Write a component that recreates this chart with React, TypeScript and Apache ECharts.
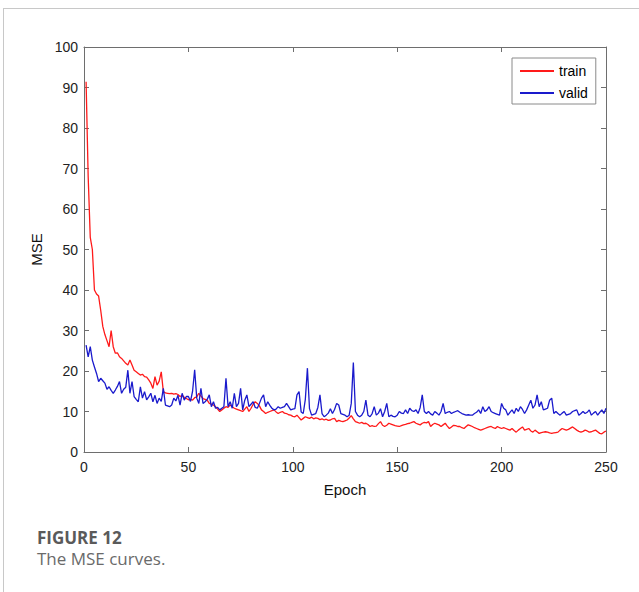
import React, { useEffect, useRef } from "react";
import * as echarts from "echarts";

const xTicks = [0, 50, 100, 150, 200, 250];
const yTicks = [0, 10, 20, 30, 40, 50, 60, 70, 80, 90, 100];

const trainMSE = [
  91.4, 68, 53, 50, 40, 39, 38.5, 35, 31, 29,
  27.5, 26, 30, 26, 24.4, 24.5, 23.5, 23.1, 22.5, 21.9,
  21.5, 22.7, 21.5, 20.2, 19.8, 19.4, 19, 19.2, 18.6, 18.5,
  17.8, 17, 15.7, 18.6, 16.5, 17.5, 19.8, 14.9, 14.6, 14.5,
  14.4, 14.5, 14.3, 14.4, 14.2, 13.7, 14, 13.5, 13.2, 12.9,
  13.0, 12.8, 13.4, 13.6, 14.5, 13.8, 13.2, 13.0, 12.8, 12.0,
  11.8, 11.6, 11.2, 10.6, 10.0, 10.4, 10.8, 11.2, 11.0, 11.6,
  11.2, 10.8, 10.6, 10.4, 10.2, 10.0, 10.6, 11.2, 10.0, 10.8,
  11.8, 12.4, 12.0, 11.4, 10.4, 10.0, 9.5, 9.8, 10.0, 10.2,
  10.4, 9.9, 9.5, 9.8, 10.0, 9.6, 9.5, 9.2, 9.1, 8.8,
  8.7, 9.1, 8.5, 7.9, 8.3, 8.7, 8.5, 8.3, 8.6, 8.2,
  8.4, 8.3, 8.0, 8.2, 7.9, 8.1, 7.8, 7.9, 8.2, 8.3,
  7.5, 7.8, 7.6, 7.5, 7.7, 7.9, 8.4, 9.0, 8.2, 7.5,
  7.3, 7.1, 7.3, 7.0, 7.1, 6.8, 6.3, 6.5, 6.3, 6.4,
  7.0, 7.5, 6.6, 6.3, 6.6, 7.1, 6.9, 6.7, 6.5, 6.4,
  6.3, 6.5, 6.7, 6.8, 7.0, 7.1, 7.3, 7.5, 7.1, 6.9,
  6.7, 7.1, 7.3, 7.2, 7.5, 6.3, 6.8, 7.1, 6.9, 6.7,
  6.3, 6.7, 7.1, 6.4, 5.8, 6.2, 6.6, 6.5, 6.3, 6.3,
  6.0, 5.8, 6.3, 6.7, 6.5, 6.3, 6.0, 5.8, 5.6, 5.4,
  5.6, 5.8, 6.0, 6.2, 6.3, 6.0, 5.8, 6.3, 6.0, 5.8,
  6.0, 5.8, 5.6, 5.4, 5.8, 5.3, 4.9, 5.4, 5.8, 6.2,
  5.4, 5.6, 5.8, 5.2, 4.9, 5.4, 5.0, 4.6, 4.8, 4.9,
  5.0, 4.9, 4.7, 4.6, 4.7, 4.8, 4.9, 5.4, 5.8, 5.6,
  5.4, 5.6, 5.9, 6.2, 5.8, 5.4, 5.1, 4.9, 5.1, 5.4,
  5.2, 4.9, 5.0, 5.2, 5.4, 5.0, 4.6, 4.5, 4.9, 5.2,
];

const validMSE = [
  26.4, 23.5, 26.0, 22.7, 21.0, 19.4, 17.4, 18.2, 17.6, 17.0,
  15.5, 16.1, 15.2, 14.5, 15.3, 16.2, 17.4, 14.5, 15.5, 16.0,
  20.2, 14.5, 17.4, 13.7, 13.0, 12.4, 16.1, 13.3, 14.9, 12.9,
  13.6, 14.5, 12.4, 14.0, 12.0, 13.3, 12.5, 15.7, 11.6, 11.4,
  11.2, 11.6, 13.3, 12.6, 14.0, 11.6, 14.5, 12.8, 13.7, 13.7,
  12.5, 15.0, 20.3, 13.3, 12.0, 15.7, 12.0, 12.4, 13.0, 14.1,
  11.2, 12.4, 10.8, 11.0, 10.4, 10.8, 11.2, 18.2, 11.2, 12.4,
  10.8, 14.5, 11.2, 12.0, 15.7, 10.4, 12.8, 14.1, 11.2, 11.8,
  12.4, 11.0, 10.8, 12.0, 13.3, 14.1, 11.2, 12.4, 11.5, 10.8,
  10.4, 10.6, 11.2, 10.8, 11.0, 11.2, 12.0, 11.2, 10.4, 10.6,
  10.7, 14.1, 14.9, 9.9, 9.5, 13.0, 20.7, 10.7, 9.1, 9.3,
  9.5, 11.0, 14.1, 9.5, 8.7, 9.1, 9.6, 10.7, 9.5, 10.5,
  12.0, 11.6, 9.5, 9.3, 9.1, 8.7, 9.1, 12.0, 22.1, 10.0,
  9.1, 8.7, 9.1, 10.0, 12.8, 9.1, 8.7, 9.5, 11.2, 9.1,
  9.6, 10.7, 8.7, 10.0, 12.0, 8.7, 9.1, 8.8, 8.7, 9.1,
  10.0, 9.6, 9.5, 10.4, 9.5, 10.8, 10.2, 10.0, 10.4, 9.5,
  11.0, 14.1, 10.0, 9.5, 10.0, 9.4, 9.1, 10.0, 9.6, 9.1,
  10.0, 12.0, 9.5, 9.8, 10.0, 9.5, 9.8, 10.0, 10.2, 9.8,
  9.5, 9.3, 9.1, 9.2, 9.1, 9.1, 9.5, 9.8, 10.4, 9.5,
  11.2, 10.0, 10.4, 11.2, 10.0, 9.7, 9.5, 9.3, 9.1, 12.0,
  10.8, 10.4, 9.1, 9.8, 10.4, 9.5, 10.8, 10.0, 11.2, 10.5,
  9.5, 10.4, 11.6, 12.8, 10.8, 11.6, 14.1, 11.2, 12.4, 10.4,
  10.6, 10.8, 12.8, 13.3, 9.5, 10.0, 9.5, 9.1, 9.6, 10.0,
  9.1, 9.3, 9.5, 10.0, 10.2, 10.4, 9.1, 9.5, 10.0, 9.5,
  9.8, 10.4, 9.1, 9.6, 10.0, 9.1, 9.8, 10.4, 9.5, 10.8,
];

const seriesNames = ["train", "valid"];
const captionTitle = "FIGURE 12";
const captionText = "The MSE curves.";

const FONT = "'Liberation Sans', Arial, sans-serif";
const CAPTION_FONT = "'Open Sans', 'Noto Sans', sans-serif";
const AXIS_COLOR = "#6e6e6e";

export default function App() {
  const ref = useRef<HTMLDivElement>(null);
  useEffect(() => {
    if (!ref.current) return;
    const chart = echarts.init(ref.current, undefined, { renderer: "svg" });
    const toPairs = (arr: number[]) => arr.map((v, i) => [i + 1, v]);
    const tickCommon = () => ({
      axisLine: { show: true, onZero: false, lineStyle: { color: AXIS_COLOR, width: 1 } },
      axisTick: { show: true, inside: true, length: 5, lineStyle: { color: AXIS_COLOR } },
      splitLine: { show: false },
    });
    const xMin = xTicks[0];
    const xMax = xTicks[xTicks.length - 1];
    const xStep = xTicks[1] - xTicks[0];
    const yMin = yTicks[0];
    const yMax = yTicks[yTicks.length - 1];
    const yStep = yTicks[1] - yTicks[0];
    chart.setOption({
      animation: false,
      backgroundColor: "#fff",
      grid: { left: 84, top: 47, right: 33, bottom: 140, containLabel: false },
      legend: {
        data: seriesNames,
        orient: "vertical",
        left: 512,
        top: 58,
        backgroundColor: "#fff",
        borderColor: "#8a8a8a",
        borderWidth: 1,
        padding: [6, 8, 4, 8],
        itemGap: 8,
        itemWidth: 34,
        itemHeight: 2,
        icon: "rect",
        textStyle: { fontFamily: FONT, fontSize: 14, color: "#000", padding: [0, 0, 0, 0] },
      },
      xAxis: [
        {
          type: "value",
          min: xMin,
          max: xMax,
          interval: xStep,
          position: "bottom",
          name: "Epoch",
          nameLocation: "middle",
          nameGap: 30,
          nameTextStyle: { fontFamily: FONT, fontSize: 15, color: "#111" },
          axisLabel: { fontFamily: FONT, fontSize: 14, color: "#222", margin: 8 },
          ...tickCommon(),
        },
        {
          type: "value",
          min: xMin,
          max: xMax,
          interval: xStep,
          position: "top",
          axisLabel: { show: false },
          ...tickCommon(),
        },
      ],
      yAxis: [
        {
          type: "value",
          min: yMin,
          max: yMax,
          interval: yStep,
          position: "left",
          name: "MSE",
          nameLocation: "middle",
          nameRotate: 90,
          nameGap: 37,
          nameTextStyle: { fontFamily: FONT, fontSize: 15, color: "#111" },
          axisLabel: { fontFamily: FONT, fontSize: 14, color: "#222", margin: 6 },
          ...tickCommon(),
        },
        {
          type: "value",
          min: yMin,
          max: yMax,
          interval: yStep,
          position: "right",
          axisLabel: { show: false },
          ...tickCommon(),
        },
      ],
      series: [
        {
          name: seriesNames[0],
          type: "line",
          data: toPairs(trainMSE),
          symbol: "none",
          color: "#ff1a1a",
          lineStyle: { color: "#ff1a1a", width: 1.3 },
          z: 2,
        },
        {
          name: seriesNames[1],
          type: "line",
          data: toPairs(validMSE),
          symbol: "none",
          color: "#1a1acc",
          lineStyle: { color: "#1a1acc", width: 1.3 },
          z: 3,
        },
      ],
      graphic: [
        {
          type: "line",
          shape: { x1: 3, y1: 8.5, x2: 639, y2: 8.5 },
          style: { stroke: "#c8c8c8", lineWidth: 1 },
          silent: true,
        },
        {
          type: "line",
          shape: { x1: 3.5, y1: 8, x2: 3.5, y2: 592 },
          style: { stroke: "#c8c8c8", lineWidth: 1 },
          silent: true,
        },
        {
          type: "text",
          left: 37,
          top: 529,
          style: {
            text: captionTitle,
            fontFamily: CAPTION_FONT,
            fontWeight: "bold",
            fontSize: 17,
            fill: "#5a5a5a",
          },
        },
        {
          type: "text",
          left: 37,
          top: 550,
          style: {
            text: captionText,
            fontFamily: CAPTION_FONT,
            fontSize: 17,
            fill: "#6a6a6a",
          },
        },
      ],
    });
    return () => chart.dispose();
  }, []);
  return (
    <div
      ref={ref}
      style={{ position: "fixed", left: 0, top: 0, width: 639, height: 592 }}
    />
  );
}
